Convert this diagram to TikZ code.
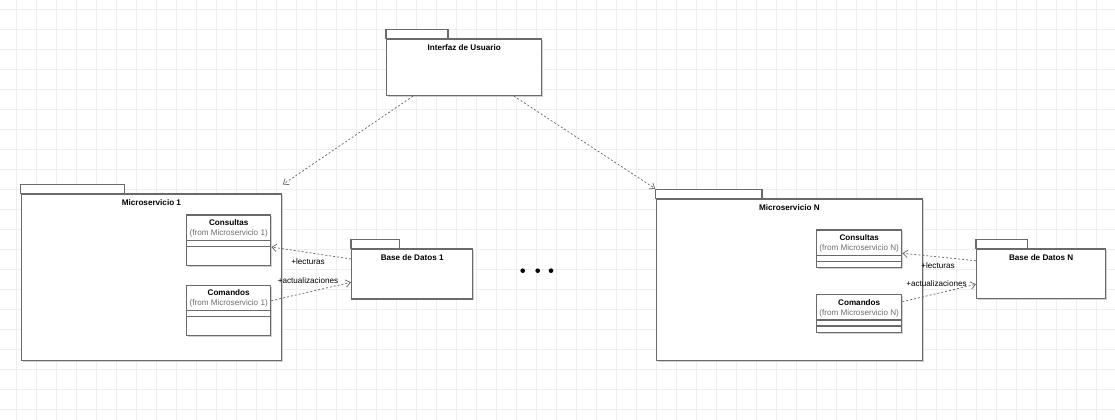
\documentclass[tikz,border=0pt]{standalone}
\usepackage{fontspec}
\setmainfont{Liberation Sans}
\usetikzlibrary{calc,arrows.meta,shadows}
\definecolor{gridgray}{HTML}{EEEEEE}
\definecolor{boxgray}{HTML}{6A6A6A}
\definecolor{depgray}{HTML}{6A6A6A}
\definecolor{fromgray}{HTML}{6E6E6E}

\begin{document}
\begin{tikzpicture}[
    x=0.75pt, y=-0.75pt,
    font=\fontsize{6.1}{7.3}\selectfont,
    gridline/.style={draw=gridgray, line width=0.75pt},
    boxline/.style={draw=boxgray, line width=1pt},
    boxsize/.style 2 args={minimum width=#1*0.75pt, minimum height=#2*0.75pt},
    softshadow/.style={drop shadow={shadow xshift=1pt, shadow yshift=-1pt, fill=black!18, opacity=1}},
    pkg/.style={boxline, fill=white, softshadow, anchor=north west, inner sep=0pt},
    pkgtab/.style={boxline, fill=white},
    cls/.style={boxline, fill=white, softshadow, anchor=north west, inner sep=0pt},
    pkgname/.style={font=\fontsize{6.1}{7.3}\selectfont\bfseries, anchor=base, inner sep=0pt},
    fromtxt/.style={text=fromgray, anchor=base, inner sep=0pt},
    role/.style={inner sep=0pt},
    dep/.style={draw=depgray, line width=0.55pt, dash pattern=on 1.5pt off 1.5pt,
      -{Straight Barb[length=3.5pt,width=5.5pt]}}
  ]
  % background grid, 20px cells
  \fill[white] (0,0) rectangle (1115,420);
  \useasboundingbox (0,0) rectangle (1115,420);
  \foreach \gx in {0,...,54}
    \draw[gridline] (16.7+20*\gx,0) -- (16.7+20*\gx,420);
  \foreach \gy in {0,...,20}
    \draw[gridline] (0,10+20*\gy) -- (1115,10+20*\gy);

  % packages
  \foreach \p/\px/\py/\pw/\ph in {ui/386/38.3/155/56.5, ms1/20.5/193.3/260.5/166.7,
      msn/655.7/198.3/266/161.7, db1/351/248.3/121/50, dbn/976/248.3/129/49.5} {
    \draw[pkgtab] (\px,\py) rectangle ++(0.4*\pw,-8.7);
    \node[pkg, boxsize={\pw}{\ph}] (\p) at (\px,\py) {};
  }

  \node[pkgname] (ui-name) at ($(ui.north)+(0,12.7)$) {Interfaz de Usuario};
  \node[pkgname] (ms1-name) at ($(ms1.north)+(0,12.7)$) {Microservicio 1};
  \node[pkgname] (msn-name) at ($(msn.north)+(0,12.4)$) {Microservicio N};
  \node[pkgname] (db1-name) at ($(db1.north)+(0,12.4)$) {Base de Datos 1};
  \node[pkgname] (dbn-name) at ($(dbn.north)+(0,12.4)$) {Base de Datos N};

  % classes
  \node[cls, boxsize={84}{50.7}] (c1q) at (186,214.3) {};
  \node[cls, boxsize={84}{50.3}] (c1c) at (186,284.7) {};
  \node[cls, boxsize={85}{37.4}] (cnq) at (816,229.3) {};
  \node[cls, boxsize={85}{37.7}] (cnc) at (816,294) {};
  \foreach \c in {c1q,c1c,cnq,cnc} {
    \draw[boxline] ($(\c.north west)+(0,26)$) -- ($(\c.north east)+(0,26)$);
    \draw[boxline] ($(\c.north west)+(0,32)$) -- ($(\c.north east)+(0,32)$);
  }
  \node[pkgname] (c1q-name) at ($(c1q.north)+(0,10.8)$) {Consultas};
  \node[fromtxt] (c1q-from) at ($(c1q.north)+(0,20.8)$) {(from Microservicio 1)};
  \node[pkgname] (c1c-name) at ($(c1c.north)+(0,10.5)$) {Comandos};
  \node[fromtxt] (c1c-from) at ($(c1c.north)+(0,20.5)$) {(from Microservicio 1)};
  \node[pkgname] (cnq-name) at ($(cnq.north)+(0,11)$) {Consultas};
  \node[fromtxt] (cnq-from) at ($(cnq.north)+(0,21.3)$) {(from Microservicio N)};
  \node[pkgname] (cnc-name) at ($(cnc.north)+(0,11.3)$) {Comandos};
  \node[fromtxt] (cnc-from) at ($(cnc.north)+(0,21.7)$) {(from Microservicio N)};

  % dependencies
  \coordinate (ui-a) at ($(ui.south west)+(27,0)$);
  \coordinate (ui-b) at ($(ui.south west)+(128,0)$);
  \coordinate (ms1-top) at ($(ms1.north east)+(0.5,-8.8)$);
  \coordinate (msn-top) at ($(msn.north west)+(-0.5,-9.6)$);
  \draw[dep] (ui-a) -- (ms1-top);
  \draw[dep] (ui-b) -- (msn-top);

  \draw[dep] ($(db1.north west)+(0,10.7)$) -- ($(c1q.north east)+(0,32.7)$);
  \draw[dep] ($(c1c.north east)+(0,16)$) -- ($(db1.north west)+(0,34)$);
  \draw[dep] ($(dbn.north west)+(0,12.4)$) -- ($(cnq.north east)+(0,24)$);
  \draw[dep] ($(cnc.north east)+(0,7.7)$) -- ($(dbn.north west)+(0,36)$);

  \node[role] (lect1) at (308,261.7) {+lecturas};
  \node[role] (act1) at (308,281) {+actualizaciones};
  \node[role] (lectn) at (938,265.7) {+lecturas};
  \node[role] (actn) at (936.5,283.3) {+actualizaciones};

  % ellipsis between services
  \foreach \dx in {522.7,537.7,551}
    \fill (\dx,270.7) circle (2.3);
\end{tikzpicture}
\end{document}
